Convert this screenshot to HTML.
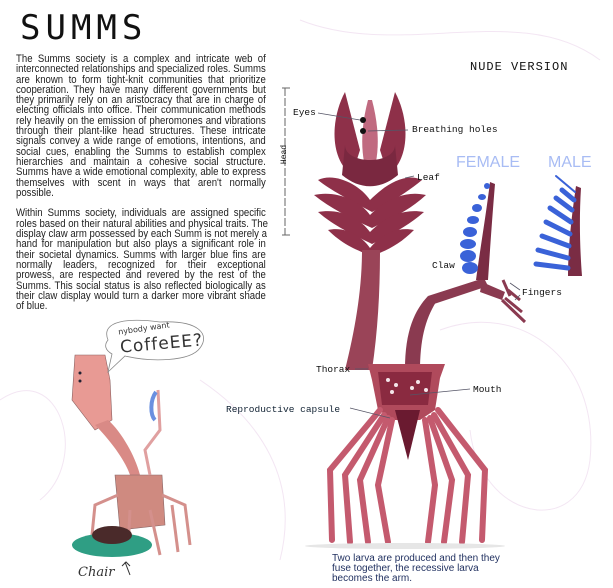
<!DOCTYPE html>
<html><head><meta charset="utf-8"><style>
body{margin:0;width:613px;height:588px;overflow:hidden;background:#fff;position:relative;font-family:"Liberation Sans",sans-serif}
.t{position:absolute;left:16px;width:276px;font-size:10.6px;line-height:10.3px;color:#222;text-align:justify;transform:scaleX(0.905);transform-origin:0 0}
.t div{text-align:justify;text-align-last:justify;white-space:nowrap}
.t div.l{text-align-last:left}
.lb{position:absolute;font-family:"Liberation Mono",monospace;font-size:9.5px;color:#111}
</style></head><body>
<svg width="613" height="588" style="position:absolute;left:0;top:0">
<g fill="none" stroke="#f3e6f3" stroke-width="1">
<path d="M300 20 C400 60 520 0 600 60"/><path d="M440 330 C520 300 600 360 590 460 C580 540 480 520 470 430"/>
<path d="M0 400 C60 360 90 460 40 500"/><path d="M200 380 C260 420 300 480 280 560"/>
</g>
<g fill="#8e3049">
<path d="M345 92 C330 120 330 160 352 175 L360 150 Z"/>
<path d="M395 92 C410 120 410 160 388 175 L380 150 Z"/>
<path d="M368 100 C360 130 360 160 370 180 C380 160 380 130 372 100 Z" fill="#c06a80"/>
<path d="M345 145 C345 165 395 165 395 145 L398 175 C380 190 360 190 342 175 Z" fill="#7a2840"/>
<path d="M318 180 C335 172 360 185 370 200 C385 185 405 172 422 180 C410 190 395 200 372 212 C350 200 330 190 318 180Z"/>
<path d="M314 195 C335 190 360 200 370 215 C385 200 405 190 426 195 C410 210 392 218 372 228 C350 218 330 208 314 195Z"/>
<path d="M318 212 C340 208 360 218 370 232 C384 218 402 208 424 212 C408 226 392 234 372 244 C352 234 334 226 318 212Z"/>
<path d="M328 230 C345 226 362 236 370 248 C380 236 396 226 414 230 C400 244 388 250 372 256 C356 250 342 244 328 230Z"/>
</g>
<circle cx="363" cy="120" r="3" fill="#111"/><circle cx="363" cy="131" r="3" fill="#111"/>
<path d="M362 250 C362 290 355 330 345 370 L372 370 C378 330 380 290 380 250Z" fill="#9a4458"/>
<path d="M405 370 C405 330 415 310 428 296 L436 302 C425 320 420 340 420 372Z" fill="#8a3a50"/>
<path d="M428 296 L484 278 L488 286 L434 304Z" fill="#8a3a50"/>
<path d="M482 282 L505 292 L502 300 L480 292Z" fill="#8a3a50"/>
<path d="M503 280 L510 296 M508 290 L520 300 M505 298 L522 312 M502 300 L525 322" stroke="#8a3a50" stroke-width="3"/>
<path d="M490 182 L495 184 C492 220 490 250 488 280 L476 280 C480 250 486 215 490 182Z" fill="#7a2c44"/>
<g fill="#3a62d8"><ellipse cx="470" cy="268" rx="8" ry="6"/><ellipse cx="468" cy="256" rx="8" ry="6"/><ellipse cx="468" cy="244" rx="8" ry="5"/><ellipse cx="470" cy="232" rx="7" ry="5"/><ellipse cx="473" cy="220" rx="6" ry="4"/><ellipse cx="477" cy="208" rx="5" ry="4"/><ellipse cx="482" cy="197" rx="4" ry="3"/><ellipse cx="487" cy="186" rx="3" ry="3"/></g>
<path d="M576 186 L581 188 C579 220 580 250 582 276 L568 276 C568 250 571 220 576 186Z" fill="#7a2c44"/>
<g stroke="#3a62d8" stroke-width="5" stroke-linecap="round"><path d="M568 268 L536 264"/><path d="M568 258 L538 250"/><path d="M569 246 L542 236"/><path d="M570 234 L546 222"/><path d="M571 222 L550 208"/><path d="M572 210 L556 198"/><path d="M574 200 L562 190"/><path d="M575 192 L556 176" stroke-width="2"/></g>
<path d="M368 364 L445 364 L440 378 L435 410 L420 420 L395 420 L378 410 L372 380Z" fill="#b04a5c"/>
<path d="M378 372 L432 372 L428 405 L382 405Z" fill="#8a2a40"/>
<g fill="#f4e6ea"><circle cx="388" cy="380" r="2"/><circle cx="396" cy="385" r="2"/><circle cx="392" cy="392" r="2"/><circle cx="418" cy="382" r="2"/><circle cx="426" cy="390" r="2"/><circle cx="412" cy="388" r="2"/></g>
<path d="M395 410 L420 410 L408 460Z" fill="#6a1a30"/>
<g stroke="#c45a6e" stroke-width="6" stroke-linecap="round" fill="none">
<path d="M380 410 L330 470 L332 540"/><path d="M384 415 L345 475 L350 542"/><path d="M388 418 L360 480 L368 542"/><path d="M392 420 L378 485 L388 542"/>
<path d="M425 420 L435 485 L428 542"/><path d="M430 418 L452 480 L444 542"/><path d="M434 415 L468 475 L462 542"/><path d="M438 410 L485 470 L482 540"/>
</g>
<ellipse cx="405" cy="546" rx="100" ry="3" fill="#e6e6e6"/>
<path d="M285 88 L285 235 M282 88 L290 88 M282 235 L290 235" stroke="#666" stroke-dasharray="8 2"/>
<g stroke="#556" stroke-width="0.8"><path d="M318 113 L360 120"/><path d="M368 131 L408 130"/><path d="M405 178 L414 176"/><path d="M355 369 L368 369"/><path d="M410 395 L470 389"/><path d="M350 408 L390 418"/><path d="M510 283 L520 290 M515 300 L520 295"/></g>
<path d="M75 355 L72 400 L95 430 L112 420 L110 380 L105 355 Z" fill="#e89a94" stroke="#8a6060" stroke-width="0.6"/>
<circle cx="80" cy="373" r="1.5" fill="#223"/><circle cx="80" cy="381" r="1.5" fill="#223"/>
<path d="M95 425 C110 440 125 460 130 475 L140 475 C135 455 120 430 108 420Z" fill="#d98a86"/>
<path d="M115 475 L162 475 L165 525 L120 530Z" fill="#cf8a80" stroke="#866" stroke-width="0.6"/>
<path d="M150 475 L145 450 L160 430 L158 390" stroke="#e0a0a0" stroke-width="3" fill="none"/>
<path d="M156 392 C150 400 150 415 155 420" stroke="#6a90e0" stroke-width="4" fill="none"/>
<g stroke="#d4908c" stroke-width="3" fill="none"><path d="M118 495 L95 505 L92 535"/><path d="M162 495 L185 505 L190 545"/><path d="M150 510 L160 555"/><path d="M130 510 L128 550"/><path d="M172 505 L178 552"/></g>
<ellipse cx="112" cy="545" rx="40" ry="12" fill="#2f9e84"/>
<ellipse cx="112" cy="535" rx="20" ry="9" fill="#4a2a2a"/>
<path d="M108 340 C100 320 130 318 160 322 C200 320 210 335 200 348 C190 362 150 362 125 356 L108 372 L112 354 C105 350 104 345 108 340Z" fill="#fff" stroke="#888" stroke-width="0.8"/>
<path d="M125 562 L130 575 M122 566 L126 562 L130 566" stroke="#333" fill="none"/>
</svg>
<div style="position:absolute;left:20px;top:8px;font-family:'DejaVu Sans Mono',monospace;font-size:34px;letter-spacing:5px;color:#111">SUMMS</div>
<div class="t" style="top:54px">
<div>The Summs society is a complex and intricate web of</div>
<div>interconnected relationships and specialized roles. Summs</div>
<div>are known to form tight-knit communities that prioritize</div>
<div>cooperation. They have many different governments but</div>
<div>they primarily rely on an aristocracy that are in charge of</div>
<div>electing officials into office. Their communication methods</div>
<div>rely heavily on the emission of pheromones and vibrations</div>
<div>through their plant-like head structures. These intricate</div>
<div>signals convey a wide range of emotions, intentions, and</div>
<div>social cues, enabling the Summs to establish complex</div>
<div>hierarchies and maintain a cohesive social structure.</div>
<div>Summs have a wide emotional complexity, able to express</div>
<div>themselves with scent in ways that aren't normally</div>
<div class="l">possible.</div>
<div class="l">&nbsp;</div>
<div>Within Summs society, individuals are assigned specific</div>
<div>roles based on their natural abilities and physical traits. The</div>
<div>display claw arm possessed by each Summ is not merely a</div>
<div>hand for manipulation but also plays a significant role in</div>
<div>their societal dynamics. Summs with larger blue fins are</div>
<div>normally leaders, recognized for their exceptional</div>
<div>prowess, are respected and revered by the rest of the</div>
<div>Summs. This social status is also reflected biologically as</div>
<div>their claw display would turn a darker more vibrant shade</div>
<div class="l">of blue.</div>
</div>
<div class="lb" style="left:470px;top:60px;font-size:12px;letter-spacing:1px">NUDE VERSION</div>
<div class="lb" style="left:275px;top:150px;font-size:8px;transform:rotate(-90deg)">Head</div>
<div class="lb" style="left:293px;top:107px">Eyes</div>
<div class="lb" style="left:412px;top:124px">Breathing holes</div>
<div class="lb" style="left:417px;top:172px">Leaf</div>
<div class="lb" style="left:432px;top:260px">Claw</div>
<div class="lb" style="left:522px;top:287px">Fingers</div>
<div class="lb" style="left:316px;top:364px">Thorax</div>
<div class="lb" style="left:473px;top:384px">Mouth</div>
<div class="lb" style="left:226px;top:404px;color:#123">Reproductive capsule</div>
<div style="position:absolute;left:456px;top:154px;font-size:16px;color:#a8bcf4">FEMALE</div>
<div style="position:absolute;left:548px;top:154px;font-size:16px;color:#a8bcf4">MALE</div>
<div style="position:absolute;left:118px;top:324px;font-family:'DejaVu Sans',sans-serif;font-size:8px;color:#333;transform:rotate(-8deg)">nybody want</div>
<div style="position:absolute;left:120px;top:334px;font-family:'DejaVu Sans',sans-serif;font-size:17px;color:#333;letter-spacing:1px;transform:rotate(-5deg)">CoffeEE?</div>
<div style="position:absolute;left:78px;top:565px;font-family:'DejaVu Serif',serif;font-style:italic;font-size:13px;color:#333">Chair</div>
<div style="position:absolute;left:332px;top:554px;font-size:10px;line-height:10px;color:#1e2e5e">Two larva are produced and then they<br>fuse together, the recessive larva<br>becomes the arm.</div>
</body></html>
